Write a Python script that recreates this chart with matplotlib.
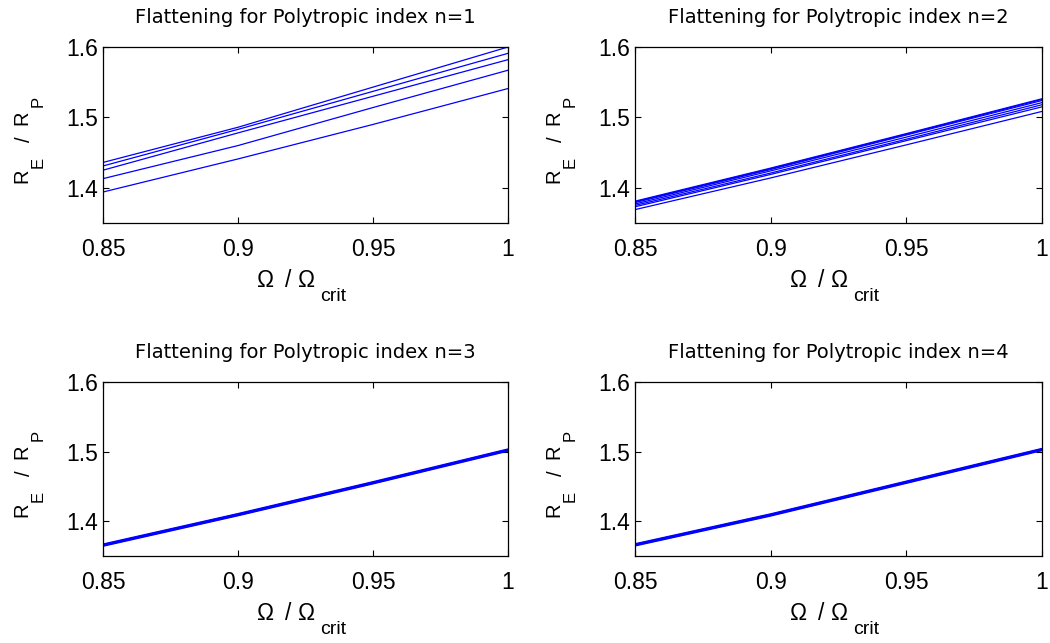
import matplotlib
matplotlib.use("Agg")
import matplotlib.pyplot as plt
from matplotlib.transforms import ScaledTranslation

plt.rcParams['font.family'] = ['Liberation Sans', 'DejaVu Sans']

# ---- data ----
omega = [0.85, 0.90, 0.95, 1.00]

n1_lines = [
    [1.436, 1.486, 1.543, 1.600],
    [1.431, 1.483, 1.537, 1.591],
    [1.425, 1.478, 1.530, 1.582],
    [1.413, 1.460, 1.514, 1.567],
    [1.394, 1.441, 1.490, 1.541],
]
n2_lines = [
    [1.381, 1.428, 1.477, 1.5265],
    [1.380, 1.427, 1.476, 1.5255],
    [1.379, 1.426, 1.475, 1.524],
    [1.377, 1.424, 1.472, 1.521],
    [1.375, 1.421, 1.469, 1.518],
    [1.373, 1.419, 1.467, 1.515],
    [1.369, 1.414, 1.461, 1.5085],
]
n3_lines = [
    [1.3672, 1.4110, 1.4568, 1.5038],
    [1.3664, 1.4102, 1.4560, 1.5030],
    [1.3656, 1.4094, 1.4552, 1.5022],
    [1.3648, 1.4086, 1.4544, 1.5014],
    [1.3640, 1.4078, 1.4536, 1.5006],
]
n4_lines = [
    [1.3676, 1.4106, 1.4576, 1.5046],
    [1.3668, 1.4098, 1.4568, 1.5038],
    [1.3660, 1.4090, 1.4560, 1.5030],
    [1.3652, 1.4082, 1.4552, 1.5022],
    [1.3644, 1.4074, 1.4544, 1.5014],
]
all_sets = [n1_lines, n2_lines, n3_lines, n4_lines]
titles = ['Flattening for Polytropic index n=1',
          'Flattening for Polytropic index n=2',
          'Flattening for Polytropic index n=3',
          'Flattening for Polytropic index n=4']
xticks = [0.85, 0.9, 0.95, 1.0]
xticklabels = ['0.85', '0.9', '0.95', '1']
yticks = [1.4, 1.5, 1.6]
yticklabels = ['1.4', '1.5', '1.6']

fig = plt.figure(figsize=(10.5, 6.43), dpi=100)
W, H = 1050, 643
boxes = [(103, 47, 508, 223), (635, 47, 1042, 223),
         (103, 382, 508, 556), (635, 382, 1042, 556)]


def place(ax, ax_x, ax_y, dx_px, dy_px, s, size, rot=0):
    tr = ax.transAxes + ScaledTranslation(dx_px / 100.0, dy_px / 100.0,
                                          fig.dpi_scale_trans)
    ax.text(ax_x, ax_y, s, transform=tr, fontsize=size, ha='left',
            va='baseline', rotation=rot, rotation_mode='anchor',
            clip_on=False)


for (x0, y0, x1, y1), lines, title in zip(boxes, all_sets, titles):
    ax = fig.add_axes([x0 / W, 1 - y1 / H, (x1 - x0) / W, (y1 - y0) / H])
    for ys in lines:
        ax.plot(omega, ys, color='#0000ff', lw=0.9)
    ax.set_xlim(0.85, 1.0)
    ax.set_ylim(1.35, 1.6)
    ax.set_xticks(xticks)
    ax.set_xticklabels(xticklabels)
    ax.set_yticks(yticks)
    ax.set_yticklabels(yticklabels)
    ax.tick_params(direction='in', length=4, width=0.8, top=True, right=True,
                   labelsize=16.5, colors='black')
    ax.tick_params(axis='x', pad=10.5)
    ax.tick_params(axis='y', pad=3.5)
    for sp in ax.spines.values():
        sp.set_linewidth(0.9)
    ax.set_title(title, fontsize=14, pad=17.3, family='DejaVu Sans')

    # x label: Omega / Omega_crit (MATLAB-style dropped subscript)
    place(ax, 0.5, 0.0, -48.5, -64, '\u03a9', 16.5)
    place(ax, 0.5, 0.0, -20.5, -64, '/', 16.5)
    place(ax, 0.5, 0.0, -7.5, -64, '\u03a9', 16.5)
    place(ax, 0.5, 0.0, 14.5, -78, 'crit', 14)

    # y label: R_E / R_P (rotated)
    place(ax, 0.0, 0.5, -76, -48, 'R', 14.5, 90)
    place(ax, 0.0, 0.5, -60, -33, 'E', 12, 90)
    place(ax, 0.0, 0.5, -73, -7, '/', 14.5, 90)
    place(ax, 0.0, 0.5, -76, 10, 'R', 14.5, 90)
    place(ax, 0.0, 0.5, -60, 28, 'P', 12, 90)

fig.savefig('out.png', dpi=100)
